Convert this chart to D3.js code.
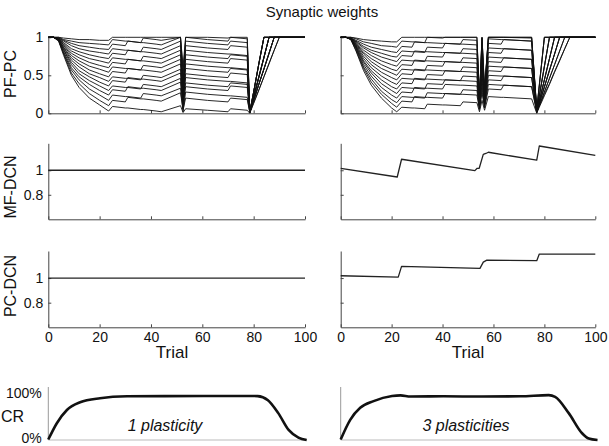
<!DOCTYPE html>
<html><head><meta charset="utf-8">
<script src="https://cdn.jsdelivr.net/npm/d3@7"></script>
<style>body{margin:0;background:#fff}svg{display:block;font-family:"Liberation Sans",Arial,sans-serif}</style>
</head><body><svg id="c" width="609" height="446"></svg>
<script>
// ---------- data ----------
const trialTicks = [0, 20, 40, 60, 80, 100];
const pfpcTicks = [0, 0.5, 1];
const dcnTicks = [0.8, 1];
const crTicks = [0, 1];

// PF-PC weights, 1 plasticity (left)
const pfpcTrialsL = [0,2,4,6,9,12,16,20,23.5, 25,30,31,36,37,42,44,51.5,52.5,53.5,62,70,71,77.5,78.5, 80,82,84,86,88,90,100];
const pfpcLeft = [
 [1,1,0.95,0.76,0.50,0.34,0.20,0.11,0.03, 0.09,0.07,0.07,0.05,0.05,0.03,0.02,0.10,0.01,0.06,0.04,0.02,0.06,0.04,0.00, 0.13,0.30,0.48,0.65,0.83,1,1],
 [1,1,0.96,0.78,0.53,0.39,0.26,0.17,0.10, 0.17,0.15,0.21,0.19,0.19,0.17,0.16,0.27,0.05,0.20,0.17,0.15,0.20,0.18,0.01, 0.17,0.38,0.58,0.79,1,1,1],
 [1,1,0.96,0.79,0.57,0.44,0.32,0.24,0.17, 0.24,0.22,0.22,0.20,0.26,0.24,0.23,0.33,0.02,0.28,0.25,0.23,0.23,0.21,0.01, 0.14,0.31,0.48,0.66,0.83,1,1],
 [1,1,0.96,0.81,0.60,0.48,0.38,0.30,0.24, 0.31,0.29,0.35,0.33,0.33,0.31,0.30,0.41,0.12,0.35,0.32,0.30,0.36,0.34,0.02, 0.18,0.38,0.59,0.79,1,1,1],
 [1,1,0.97,0.83,0.64,0.52,0.43,0.36,0.30, 0.36,0.34,0.34,0.32,0.38,0.36,0.35,0.46,0.06,0.40,0.37,0.35,0.40,0.38,0.01, 0.17,0.38,0.58,0.79,1,1,1],
 [1,1,0.97,0.84,0.67,0.56,0.48,0.41,0.36, 0.43,0.41,0.47,0.45,0.45,0.43,0.42,0.53,0.20,0.47,0.44,0.42,0.42,0.40,0.02, 0.22,0.48,0.74,1,1,1,1],
 [1,1,0.97,0.86,0.70,0.61,0.52,0.47,0.42, 0.48,0.46,0.46,0.44,0.50,0.48,0.47,0.58,0.10,0.52,0.49,0.47,0.53,0.51,0.01, 0.17,0.38,0.58,0.79,1,1,1],
 [1,1,0.97,0.87,0.73,0.65,0.57,0.52,0.48, 0.55,0.53,0.59,0.57,0.57,0.55,0.54,0.65,0.28,0.59,0.56,0.54,0.59,0.57,0.02, 0.22,0.48,0.74,1,1,1,1],
 [1,1,0.98,0.89,0.76,0.69,0.62,0.58,0.54, 0.61,0.59,0.59,0.57,0.63,0.61,0.60,0.71,0.15,0.65,0.62,0.60,0.60,0.58,0.01, 0.21,0.47,0.73,1,1,1,1],
 [1,1,0.98,0.90,0.79,0.73,0.67,0.63,0.60, 0.67,0.65,0.71,0.69,0.69,0.67,0.66,0.77,0.35,0.71,0.68,0.66,0.72,0.70,0.02, 0.28,0.65,1,1,1,1,1],
 [1,1,0.98,0.92,0.82,0.77,0.72,0.69,0.66, 0.73,0.71,0.71,0.69,0.75,0.73,0.72,0.83,0.22,0.77,0.74,0.72,0.77,0.75,0.01, 0.21,0.47,0.73,1,1,1,1],
 [1,1,0.99,0.93,0.85,0.81,0.77,0.74,0.72, 0.79,0.77,0.83,0.81,0.81,0.79,0.78,0.89,0.45,0.83,0.80,0.78,0.78,0.76,0.02, 0.28,0.65,1,1,1,1,1],
 [1,1,0.99,0.95,0.89,0.85,0.82,0.80,0.78, 0.85,0.83,0.83,0.81,0.87,0.85,0.84,0.95,0.30,0.89,0.86,0.84,0.89,0.87,0.01, 0.28,0.64,1,1,1,1,1],
 [1,1,0.99,0.96,0.92,0.89,0.87,0.85,0.84, 0.91,0.89,0.95,0.93,0.93,0.91,0.90,1,0.55,0.95,0.92,0.90,0.95,0.93,0.02, 0.28,0.65,1,1,1,1,1],
 [1,1,1,0.97,0.95,0.93,0.92,0.91,0.90, 0.97,0.95,0.95,0.93,0.99,0.97,0.96,1,0.40,1,0.97,0.95,1,0.98,0.01, 0.21,0.47,0.73,1,1,1,1],
 [1,1,1,0.99,0.98,0.97,0.97,0.96,0.96, 1,1,1,1,1,1,1,1,0.62,1,1,0.99,1,1,0.02, 0.28,0.65,1,1,1,1,1]
];

// PF-PC weights, 3 plasticities (right)
const pfpcTrialsR = [0,2,4,6,9,12,16,20,22, 24,28,29,33,34,40,41,47,48,53.5,54.5,55.5,56.5,58,63,64,75,77, 78,80,82,84,86,88,90,100];
const pfpcRight = [
 [1,1,0.97,0.82,0.56,0.37,0.20,0.07,0.02, 0.08,0.07,0.07,0.06,0.12,0.11,0.11,0.10,0.15,0.14,0.02,0.17,0.04,0.22,0.21,0.21,0.19,0.00, 0.08,0.23,0.38,0.54,0.69,0.85,1,1],
 [1,1,0.97,0.83,0.59,0.41,0.25,0.13,0.08, 0.16,0.15,0.22,0.21,0.21,0.20,0.26,0.25,0.25,0.24,0.05,0.27,0.07,0.32,0.31,0.37,0.35,0.01, 0.10,0.28,0.46,0.64,0.82,1,1,1],
 [1,1,0.97,0.85,0.61,0.45,0.29,0.18,0.14, 0.22,0.21,0.21,0.20,0.27,0.26,0.26,0.25,0.31,0.30,0.06,0.33,0.09,0.38,0.37,0.37,0.35,0.02, 0.10,0.25,0.39,0.55,0.70,0.85,1,1],
 [1,1,0.98,0.86,0.64,0.49,0.34,0.24,0.20, 0.28,0.27,0.34,0.33,0.33,0.32,0.38,0.37,0.37,0.36,0.07,0.39,0.11,0.44,0.43,0.49,0.47,0.02, 0.13,0.35,0.57,0.78,1,1,1,1],
 [1,1,0.98,0.87,0.67,0.53,0.39,0.30,0.26, 0.34,0.33,0.33,0.32,0.39,0.38,0.44,0.43,0.43,0.42,0.08,0.45,0.13,0.50,0.49,0.49,0.47,0.01, 0.10,0.28,0.46,0.64,0.82,1,1,1],
 [1,1,0.98,0.88,0.69,0.56,0.44,0.35,0.32, 0.40,0.39,0.46,0.45,0.45,0.44,0.44,0.43,0.49,0.48,0.10,0.51,0.14,0.56,0.55,0.61,0.59,0.03, 0.14,0.35,0.57,0.78,1,1,1,1],
 [1,1,0.98,0.89,0.72,0.60,0.49,0.41,0.38, 0.46,0.45,0.45,0.44,0.51,0.50,0.56,0.55,0.55,0.54,0.11,0.57,0.16,0.62,0.61,0.61,0.59,0.02, 0.16,0.44,0.72,1,1,1,1,1],
 [1,1,0.98,0.90,0.75,0.64,0.54,0.47,0.44, 0.52,0.51,0.58,0.57,0.57,0.56,0.56,0.55,0.61,0.60,0.12,0.63,0.18,0.68,0.67,0.73,0.71,0.01, 0.12,0.34,0.56,0.78,1,1,1,1],
 [1,1,0.99,0.91,0.78,0.68,0.59,0.53,0.50, 0.58,0.57,0.57,0.56,0.63,0.62,0.68,0.67,0.67,0.66,0.13,0.69,0.20,0.74,0.73,0.73,0.71,0.02, 0.16,0.44,0.72,1,1,1,1,1],
 [1,1,0.99,0.92,0.80,0.72,0.64,0.58,0.56, 0.64,0.63,0.70,0.69,0.69,0.68,0.68,0.67,0.73,0.72,0.14,0.75,0.22,0.80,0.79,0.85,0.83,0.03, 0.22,0.61,1,1,1,1,1,1],
 [1,1,0.99,0.93,0.83,0.76,0.69,0.64,0.62, 0.70,0.69,0.69,0.68,0.75,0.74,0.80,0.79,0.79,0.78,0.16,0.81,0.23,0.86,0.85,0.85,0.83,0.02, 0.16,0.44,0.72,1,1,1,1,1],
 [1,1,0.99,0.94,0.86,0.80,0.74,0.70,0.68, 0.76,0.75,0.82,0.81,0.81,0.80,0.80,0.79,0.85,0.84,0.17,0.87,0.25,0.92,0.91,0.97,0.95,0.04, 0.23,0.62,1,1,1,1,1,1],
 [1,1,0.99,0.95,0.88,0.83,0.79,0.75,0.74, 0.82,0.81,0.81,0.80,0.87,0.86,0.92,0.91,0.91,0.90,0.18,0.93,0.27,0.98,0.97,0.97,0.95,0.03, 0.35,1,1,1,1,1,1,1],
 [1,1,0.99,0.96,0.91,0.87,0.84,0.81,0.80, 0.88,0.87,0.94,0.93,0.93,0.92,0.92,0.91,0.97,0.96,0.19,0.99,0.29,1,1,1,0.99,0.04, 0.23,0.62,1,1,1,1,1,1],
 [1,1,1,0.98,0.94,0.92,0.89,0.88,0.87, 0.95,0.94,0.94,0.93,1,0.99,1,1,1,1,0.20,1,0.30,1,1,1,1,0.05, 0.37,1,1,1,1,1,1,1],
 [1,1,1,0.99,0.97,0.96,0.95,0.94,0.94, 1,1,1,1,1,1,1,1,1,1,0.22,1,0.32,1,1,1,1,0.06, 0.37,1,1,1,1,1,1,1]
];

// MF-DCN and PC-DCN weights
const mfTrialsL = [0, 100];
const mfLeft = [1, 1];
const mfTrialsR = [0, 22.2, 23.9, 52.7, 53.6, 54.4, 56, 57, 58, 77, 78, 100];
const mfRight = [1.016, 0.945, 1.09, 0.997, 1.016, 1.016, 1.13, 1.137, 1.147, 1.082, 1.198, 1.122];
const pcTrialsL = [0, 100];
const pcLeft = [1, 1];
const pcTrialsR = [0, 22.6, 23.9, 54.7, 56, 57.4, 77, 78, 100];
const pcRight = [1.019, 1.008, 1.095, 1.079, 1.13, 1.146, 1.141, 1.195, 1.195];

// CR rate
const crTrialsL = [0, 3.3, 7.2, 12.3, 20, 30.5, 45, 60, 75, 81, 85, 89, 93, 96.8, 100];
const crLeft = [0.01, 0.35, 0.625, 0.785, 0.87, 0.91, 0.915, 0.917, 0.917, 0.915, 0.83, 0.56, 0.21, 0.05, 0.0];
const crTrialsR = [0, 3.7, 7.6, 12.8, 20, 23.3, 27.2, 40, 55, 70, 81, 83.5, 88.8, 94, 96.6, 100];
const crRight = [0.01, 0.42, 0.67, 0.81, 0.917, 0.93, 0.905, 0.91, 0.905, 0.91, 0.935, 0.9, 0.56, 0.14, 0.03, 0.0];

// ---------- drawing ----------
const svg = d3.select("#c");
const AX = "#444", LN = "#111";
const xL = d3.scaleLinear().domain([0, 100]).range([48.3, 305]);
const xR = d3.scaleLinear().domain([0, 100]).range([340.7, 595.3]);
const yPF = d3.scaleLinear().domain([0, 1]).range([113.3, 37.3]);
const yMF = d3.scaleLinear().domain([0.6, 1.22]).range([219.3, 143.3]);
const yPC = d3.scaleLinear().domain([0.6, 1.22]).range([327.3, 251]);

function styleAxis(g) {
  g.attr("font-family", null).attr("font-size", null);
  g.select(".domain").attr("stroke", AX);
  g.selectAll(".tick line").attr("stroke", AX);
  g.selectAll(".tick text").attr("fill", "#111").style("font-size", "14px");
}

function panel(x, y, yTicks, yFmt, xLabels) {
  const yb = y.range()[0];
  svg.append("g").attr("transform", `translate(0,${yb})`)
    .call(d3.axisBottom(x).tickValues(trialTicks).tickSizeInner(-3).tickSizeOuter(0).tickPadding(4.5)
      .tickFormat(xLabels ? d3.format("d") : () => ""))
    .call(styleAxis);
  svg.append("g").attr("transform", `translate(${x.range()[0]},0)`)
    .call(d3.axisLeft(y).tickValues(yTicks).tickSizeInner(-3).tickSizeOuter(0).tickPadding(5)
      .tickFormat(yFmt ? (d => String(d)) : () => ""))
    .call(styleAxis);
}

panel(xL, yPF, pfpcTicks, true, false);
panel(xR, yPF, pfpcTicks, false, false);
panel(xL, yMF, dcnTicks, true, false);
panel(xR, yMF, dcnTicks, false, false);
panel(xL, yPC, dcnTicks, true, true);
panel(xR, yPC, dcnTicks, false, true);

function drawLine(x, y, T, V, w, col) {
  svg.append("path").datum(V)
    .attr("fill", "none").attr("stroke", col).attr("stroke-width", w).attr("stroke-linejoin", "round")
    .attr("d", d3.line().x((d, i) => x(T[i])).y(d => y(d)));
}

pfpcLeft.forEach(v => drawLine(xL, yPF, pfpcTrialsL, v, 0.9, LN));
pfpcRight.forEach(v => drawLine(xR, yPF, pfpcTrialsR, v, 0.9, LN));
drawLine(xL, yMF, mfTrialsL, mfLeft, 1.3, "#222");
drawLine(xR, yMF, mfTrialsR, mfRight, 1.3, "#222");
drawLine(xL, yPC, pcTrialsL, pcLeft, 1.3, "#222");
drawLine(xR, yPC, pcTrialsR, pcRight, 1.3, "#222");

// CR panels
const crY = d3.scaleLinear().domain([0, 1]).range([440, 392]);
const crXL = d3.scaleLinear().domain([0, 100]).range([48.3, 306.7]);
const crXR = d3.scaleLinear().domain([0, 100]).range([340.7, 597.5]);
[crXL, crXR].forEach(x => {
  svg.append("line").attr("x1", x.range()[0]).attr("x2", x.range()[0]).attr("y1", 387).attr("y2", 440)
    .attr("stroke", "#999").attr("stroke-width", 1);
  svg.append("line").attr("x1", x.range()[0]).attr("x2", x.range()[1]).attr("y1", 440).attr("y2", 440)
    .attr("stroke", "#bbb").attr("stroke-width", 1);
});
svg.append("g").attr("transform", "translate(48.3,0)")
  .call(d3.axisLeft(crY).tickValues(crTicks).tickSize(0).tickPadding(6.6).tickFormat(d3.format(".0%")))
  .call(g => { g.select(".domain").remove(); })
  .call(styleAxis)
  .call(g => g.selectAll(".tick text").attr("dy", d => d === 0 ? "0.2em" : "0.42em"));

function crLine(x, T, V) {
  svg.append("path").datum(V)
    .attr("fill", "none").attr("stroke", "#111").attr("stroke-width", 2.6)
    .attr("d", d3.line().curve(d3.curveMonotoneX).x((d, i) => x(T[i])).y(d => crY(d)));
}
crLine(crXL, crTrialsL, crLeft);
crLine(crXR, crTrialsR, crRight);

// texts
const txt = (s, x, y, size, opts = {}) => {
  const t = svg.append("text").attr("x", x).attr("y", y).attr("font-size", size)
    .attr("text-anchor", opts.anchor || "middle").attr("fill", "#111").text(s);
  if (opts.italic) t.attr("font-style", "italic");
  if (opts.rot) t.attr("transform", `rotate(-90,${x},${y})`);
  return t;
};
txt("Synaptic weights", 322, 17, 15);
txt("PF-PC", 16, 74, 16, { rot: true });
txt("MF-DCN", 16, 187, 16, { rot: true });
txt("PC-DCN", 16, 286, 16, { rot: true });
txt("Trial", 172, 358, 17);
txt("Trial", 468, 358, 17);
txt("CR", 1, 422, 16, { anchor: "start" });
txt("1 plasticity", 165, 431, 16, { italic: true });
txt("3 plasticities", 466, 431, 16, { italic: true });
</script>
</body></html>
